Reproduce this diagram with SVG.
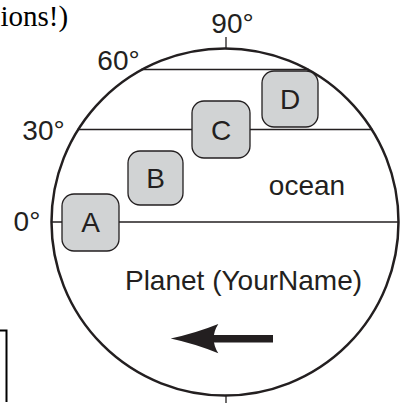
<svg xmlns="http://www.w3.org/2000/svg" width="405" height="403" viewBox="0 0 405 403">
<style>
text{font-family:"Liberation Sans",Arial,sans-serif;font-size:28px;fill:#231f20}
.serif{font-family:"Liberation Serif","Times New Roman",serif;font-size:29px;fill:#000}
.lat{stroke:#231f20;stroke-width:1.3;fill:none}
.box rect{fill:#d1d3d4;stroke:#231f20;stroke-width:1.3}
.box text{text-anchor:middle}
</style>
<rect width="405" height="403" fill="#fff"/>
<text class="serif" x="0.5" y="26">ions!)</text>
<path d="M0,330.5 H6.5 V402" fill="none" stroke="#000" stroke-width="2"/>
<g id="planet">
<circle cx="225" cy="222" r="173.5" fill="none" stroke="#231f20" stroke-width="2.5"/>
<line x1="226" y1="37" x2="226" y2="49" stroke="#231f20" stroke-width="1.3"/>
<line x1="226" y1="395" x2="226" y2="403" stroke="#231f20" stroke-width="1.3"/>
</g>
<g id="labels">
<text x="232.5" y="33" text-anchor="middle">90°</text>
<text x="118.5" y="70" text-anchor="middle">60°</text>
<text x="43.5" y="140" text-anchor="middle">30°</text>
<text x="27" y="231" text-anchor="middle">0°</text>
<text x="307" y="195" text-anchor="middle">ocean</text>
<text x="243.5" y="290" text-anchor="middle">Planet (YourName)</text>
</g>
<g id="connectors">
<line class="lat" x1="141" y1="69.5" x2="309" y2="69.5"/>
<line class="lat" x1="77" y1="129.5" x2="373" y2="129.5"/>
<line class="lat" x1="51" y1="222" x2="399" y2="222"/>
</g>
<g id="arrow" fill="#231f20">
<rect x="211" y="335" width="62" height="7.5"/>
<path d="M170.7,338.5 Q196,333 218.3,324 Q209,338.5 218.3,353.3 Q196,344 170.7,338.5 Z"/>
</g>
<g id="A" class="box"><rect x="62" y="194" width="57" height="57" rx="12"/><text x="90.5" y="232">A</text></g>
<g id="B" class="box"><rect x="128" y="151" width="55" height="54" rx="12"/><text x="155.5" y="187.5">B</text></g>
<g id="C" class="box"><rect x="192" y="101" width="58" height="57" rx="12"/><text x="221" y="139.5">C</text></g>
<g id="D" class="box"><rect x="262" y="71" width="56" height="56" rx="12"/><text x="290" y="108.5">D</text></g>
</svg>
